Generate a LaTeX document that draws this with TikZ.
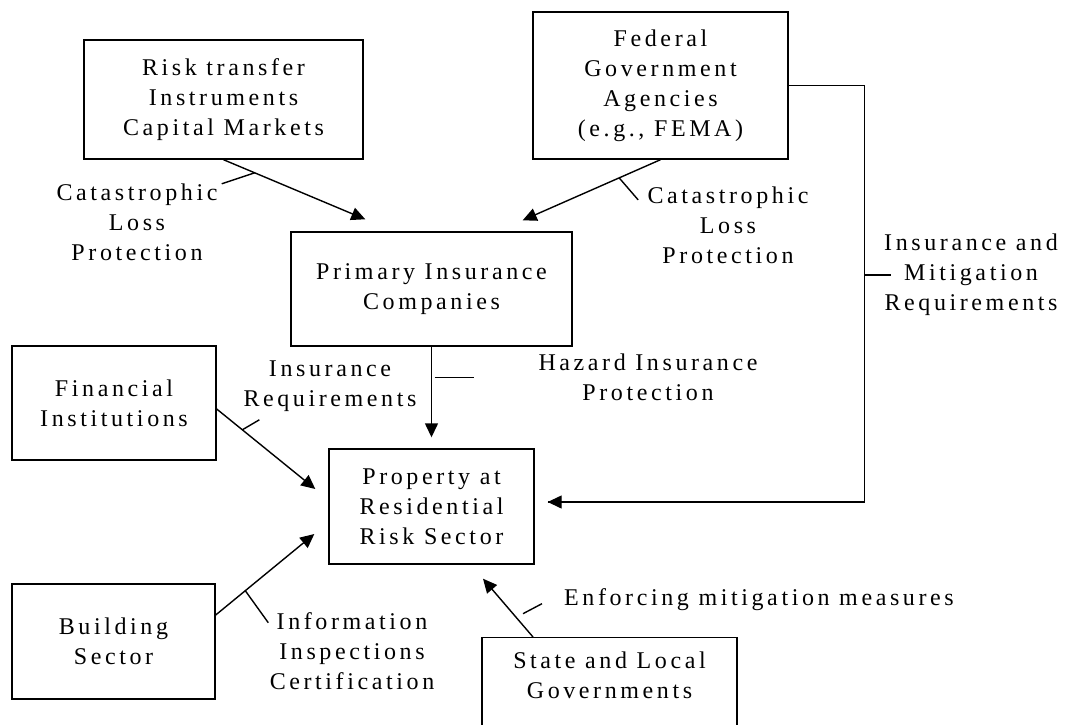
\documentclass[tikz,border=0pt]{standalone}
\usepackage{fontspec}
\setmainfont{Liberation Serif}[LetterSpace=15]
\usetikzlibrary{arrows.meta,calc}
\begin{document}
\begin{tikzpicture}[x=1pt,y=-1pt,
  every node/.style={font=\fontsize{24}{30}\selectfont},
  box/.style={draw, line width=1.4pt, align=center, inner sep=0pt},
  lbl/.style={align=center, inner sep=0pt},
  conn/.style={line width=1.4pt},
  arr/.style={conn, -{Triangle[length=14pt,width=13pt]}},
  tickmark/.style={line width=1.4pt}]
\useasboundingbox (0,0) rectangle (1066,725);
% boxes
\node[box, minimum width=279pt, minimum height=119pt] (risk) at (223.5,99.5) {Risk transfer\\Instruments\\Capital Markets};
\node[box, minimum width=255pt, minimum height=147pt] (fed) at (660.5,85.5) {Federal\\Government\\Agencies\\(e.g., FEMA)};
\node[box, minimum width=281pt, minimum height=114pt] (prim) at (431.5,289) {Primary Insurance\\Companies};
\node[box, minimum width=204pt, minimum height=114pt] (fin) at (114,403) {Financial\\Institutions};
\node[box, minimum width=203pt, minimum height=115pt] (bld) at (113.5,641.5) {Building\\Sector};
\node[box, minimum width=205pt, minimum height=115pt] (prop) at (431.5,506.5) {Property at\\Residential\\Risk Sector};
\node[box, minimum width=255pt, minimum height=120pt, anchor=north] (state) at (609.5,637) {};
\node[lbl] (statetxt) at (609.5,675) {State and Local\\Governments};
% labels
\node[lbl] (cl1) at (137,222) {Catastrophic\\Loss\\Protection};
\node[lbl] (cl2) at (728,225) {Catastrophic\\Loss\\Protection};
\node[lbl] (ir) at (330,386) {Insurance\\Requirements};
\node[lbl] (hip) at (648,377) {Hazard Insurance\\Protection};
\node[lbl] (iic) at (352,651) {Information\\Inspections\\Certification};
\node[lbl, anchor=west] (emm) at (564,600) {Enforcing mitigation measures};
\node[lbl] (imr) at (971,275) {Insurance and\\Mitigation\\Requirements};
% connectors
\draw[arr] (risk.south) -- coordinate[pos=0.22] (t1) ($(prim.north west)+(75,-12)$);
\draw[arr] (fed.south) -- coordinate[pos=0.30] (t2) ($(prim.north east)+(-50,-11)$);
\draw[arr] (prim.south) -- coordinate[pos=0.337] (t3) ($(prop.north)+(0,-11)$);
\draw[arr] ($(fin.east)+(0,6)$) -- coordinate[pos=0.26] (t4) ($(prop.west)+(-13,-17.5)$);
\draw[arr] ($(bld.east)+(0,-26.5)$) -- coordinate[pos=0.3] (t5) ($(prop.west)+(-14,27.5)$);
\draw[arr] ($(state.north)+(-76.5,0)$) -- coordinate[pos=0.4] (t6) ($(prop.south)+(51.5,14)$);
\draw[conn] (fed.east) -- ++(76,0) coordinate (fc) |- ($(prop.east)+(13,-4.5)$);
\draw[arr] ($(prop.east)+(300,-4.5)$) -- ($(prop.east)+(13,-4.5)$);
% leader ticks
\draw[tickmark] (t1) -- ++(-33,11);
\draw[tickmark] (t2) -- ++(19,22);
\draw[tickmark] ($(t3)+(3,0)$) -- ++(39,0);
\draw[tickmark] (t4) -- ++(17,-10);
\draw[tickmark] (t5) -- ++(23,32);
\draw[tickmark] ($(t6)+(10,0)$) -- ++(19,-10);
\draw[tickmark] (fc |- imr.west) -- ++(26,0);
\end{tikzpicture}
\end{document}
